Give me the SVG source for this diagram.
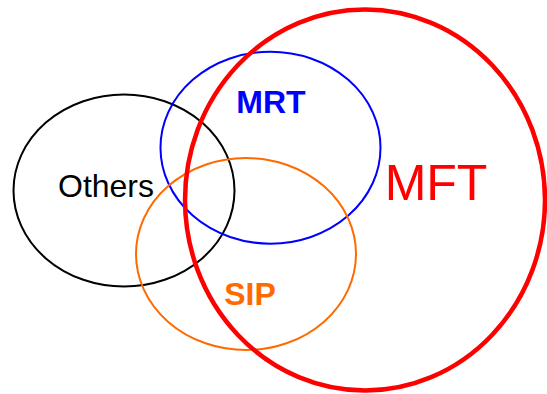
<svg xmlns="http://www.w3.org/2000/svg" width="547" height="394" viewBox="0 0 547 394">
<style>
.set{fill:none}
.lbl{font-family:"Liberation Sans",Arial,sans-serif;text-anchor:middle}
</style>
<rect width="547" height="394" fill="#fff"/>
<g id="others">
<ellipse class="set" cx="124" cy="190.5" rx="110.5" ry="96" stroke="#000" stroke-width="2"/>
<text class="lbl" x="106" y="197" font-size="32" fill="#000">Others</text>
</g>
<g id="mrt">
<ellipse class="set" cx="270.5" cy="147.7" rx="110" ry="96" stroke="#0000ff" stroke-width="2"/>
<text class="lbl" x="271" y="113" font-size="32" font-weight="bold" fill="#0000ff">MRT</text>
</g>
<g id="sip">
<ellipse class="set" cx="246" cy="254" rx="110" ry="96" stroke="#ff6a00" stroke-width="2"/>
<text class="lbl" x="250" y="305" font-size="32" font-weight="bold" fill="#ff6a00">SIP</text>
</g>
<g id="mft">
<ellipse class="set" cx="365" cy="200" rx="180" ry="190.5" stroke="#ff0000" stroke-width="4.5"/>
<text class="lbl" x="436" y="200" font-size="50" fill="#ff0000">MFT</text>
</g>
<g id="connectors"/>
</svg>
